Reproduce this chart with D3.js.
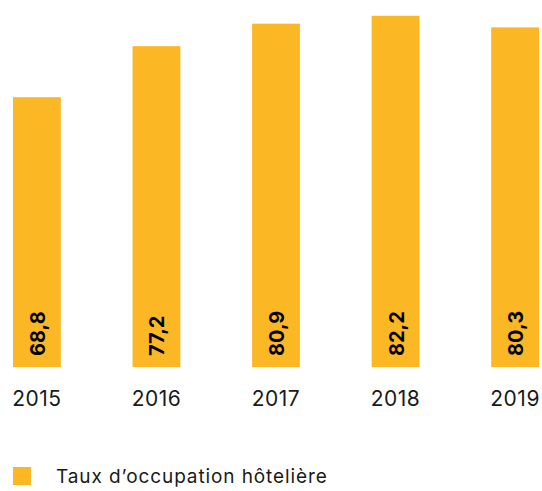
<!DOCTYPE html>
<html>
<head>
<meta charset="utf-8">
<script src="https://cdn.jsdelivr.net/npm/d3@7"></script>
<style>
  html, body { margin: 0; padding: 0; background: #fff; }
  svg { display: block; font-family: Inter, "Noto Sans", sans-serif; }
</style>
</head>
<body>
<div id="chart"></div>
<script>
// ---- Data ----
const years = ["2015", "2016", "2017", "2018", "2019"];
const occupancy = [68.8, 77.2, 80.9, 82.2, 80.3];
const seriesLabel = "Taux d\u2019occupation hôtelière";

const W = 542, H = 491;
const BAR = "#fcb725";

const svg = d3.select("#chart").append("svg")
  .attr("width", W).attr("height", H);

// ---- Scales ----
const x = d3.scaleBand()
  .domain(years)
  .range([13, 539])
  .paddingInner(0.6)
  .paddingOuter(0);

const y = d3.scaleLinear()
  .domain([24.4, 84.8])
  .range([367, 0]);

const fmt = v => v.toFixed(1).replace(".", ",");

const data = years.map((yr, i) => ({ year: yr, value: occupancy[i] }));

// ---- Bars ----
svg.selectAll("rect.bar")
  .data(data)
  .join("rect")
  .attr("class", "bar")
  .attr("x", d => x(d.year))
  .attr("width", x.bandwidth())
  .attr("y", d => y(d.value))
  .attr("height", d => y.range()[0] - y(d.value))
  .attr("fill", BAR);

// ---- Value labels (rotated, bottom of bars) ----
svg.selectAll("text.val")
  .data(data)
  .join("text")
  .attr("class", "val")
  .attr("transform", d => `translate(${x(d.year) + x.bandwidth() / 2 + 1},${y.range()[0] - 11}) rotate(-90)`)
  .attr("dominant-baseline", "central")
  .attr("font-size", 20)
  .attr("font-weight", 700)
  .attr("fill", "#000")
  .text(d => fmt(d.value));

// ---- X axis labels ----
const xAxis = svg.append("g")
  .attr("transform", `translate(0,${y.range()[0]})`)
  .call(d3.axisBottom(x).tickSize(0).tickPadding(24));
xAxis.select(".domain").remove();
xAxis.selectAll("text")
  .attr("font-size", 21)
  .attr("letter-spacing", 0.5)
  .attr("font-family", "Inter, 'Noto Sans', sans-serif")
  .attr("fill", "#1a1a1a");

// ---- Legend ----
const legend = svg.append("g").attr("transform", "translate(13,467)");
legend.append("rect")
  .attr("width", 18).attr("height", 18)
  .attr("fill", BAR);
legend.append("text")
  .attr("x", 43).attr("y", 16)
  .attr("font-size", 19)
  .attr("letter-spacing", 0.9)
  .attr("fill", "#1a1a1a")
  .text(seriesLabel);
</script>
</body>
</html>
